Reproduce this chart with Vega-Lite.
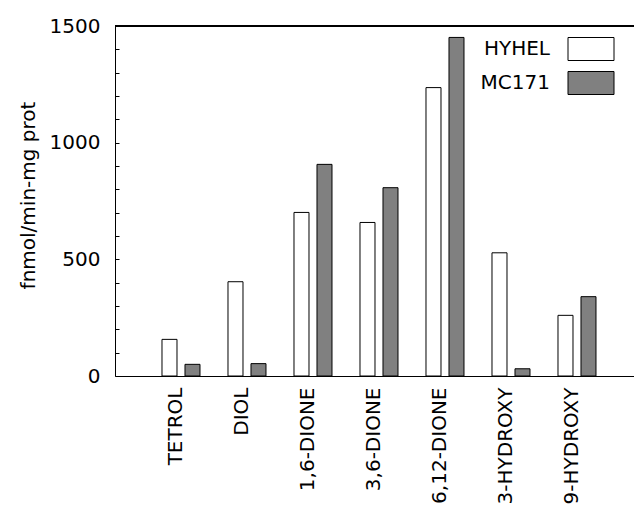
{
  "$schema": "https://vega.github.io/schema/vega-lite/v6.json",
  "width": 519,
  "height": 350,
  "autosize": {"type": "none"},
  "padding": {"left": 115, "top": 26, "right": 0, "bottom": 145},
  "background": "white",
  "config": {
    "view": {"stroke": null},
    "font": "DejaVu Sans",
    "axis": {
      "labelFont": "DejaVu Sans",
      "titleFont": "DejaVu Sans",
      "labelColor": "black",
      "titleColor": "black",
      "domainColor": "black",
      "domainWidth": 1,
      "tickColor": "black",
      "labelFontSize": 20,
      "titleFontSize": 20,
      "titleFontWeight": "normal",
      "grid": false
    }
  },
  "data": {
    "values": [
      {"compound": "TETROL", "clone": "HYHEL", "value": 157},
      {"compound": "TETROL", "clone": "MC171", "value": 50},
      {"compound": "DIOL", "clone": "HYHEL", "value": 404},
      {"compound": "DIOL", "clone": "MC171", "value": 53},
      {"compound": "1,6-DIONE", "clone": "HYHEL", "value": 701},
      {"compound": "1,6-DIONE", "clone": "MC171", "value": 907},
      {"compound": "3,6-DIONE", "clone": "HYHEL", "value": 658},
      {"compound": "3,6-DIONE", "clone": "MC171", "value": 807},
      {"compound": "6,12-DIONE", "clone": "HYHEL", "value": 1236},
      {"compound": "6,12-DIONE", "clone": "MC171", "value": 1451},
      {"compound": "3-HYDROXY", "clone": "HYHEL", "value": 528},
      {"compound": "3-HYDROXY", "clone": "MC171", "value": 31},
      {"compound": "9-HYDROXY", "clone": "HYHEL", "value": 260},
      {"compound": "9-HYDROXY", "clone": "MC171", "value": 340}
    ]
  },
  "layer": [
    {
      "mark": {"type": "bar", "stroke": "black", "strokeWidth": 1},
      "encoding": {
        "x": {
          "field": "compound",
          "type": "nominal",
          "sort": null,
          "scale": {"paddingInner": 0.4242, "paddingOuter": 0.6439, "align": 0.5529},
          "axis": {"title": null, "labelAngle": -90, "ticks": false, "labelPadding": 11, "labelOffset": -5}
        },
        "xOffset": {
          "field": "clone",
          "type": "nominal",
          "sort": ["HYHEL", "MC171"],
          "scale": {"paddingInner": 0.348, "paddingOuter": 0}
        },
        "y": {
          "field": "value",
          "type": "quantitative",
          "scale": {"domain": [0, 1500], "nice": false},
          "axis": {
            "title": "fnmol/min-mg prot",
            "values": [0, 100, 200, 300, 400, 500, 600, 700, 800, 900, 1000, 1100, 1200, 1300, 1400, 1500],
            "tickCount": 20,
            "format": "d",
            "labelExpr": "datum.value % 500 === 0 ? datum.label : ''",
            "labelOverlap": false,
            "labelFlush": false,
            "tickSize": -4,
            "labelPadding": 19,
            "titleX": -77,
            "titleY": 169
          }
        },
        "fill": {
          "field": "clone",
          "type": "nominal",
          "scale": {"domain": ["HYHEL", "MC171"], "range": ["white", "#808080"]},
          "legend": {
            "title": null,
            "orient": "none",
            "legendX": 464,
            "legendY": 11,
            "padding": 0,
            "symbolType": "M-2,-1H2V1H-2Z",
            "symbolSize": 529,
            "symbolStrokeColor": "black",
            "symbolStrokeWidth": 1,
            "labelFont": "DejaVu Sans",
            "labelFontSize": 20,
            "labelColor": "black",
            "labelAlign": "right",
            "labelOffset": -53,
            "rowPadding": 6
          }
        }
      }
    },
    {
      "mark": {"type": "rule", "color": "black", "strokeWidth": 1},
      "encoding": {"y": {"datum": 1500}}
    }
  ]
}
